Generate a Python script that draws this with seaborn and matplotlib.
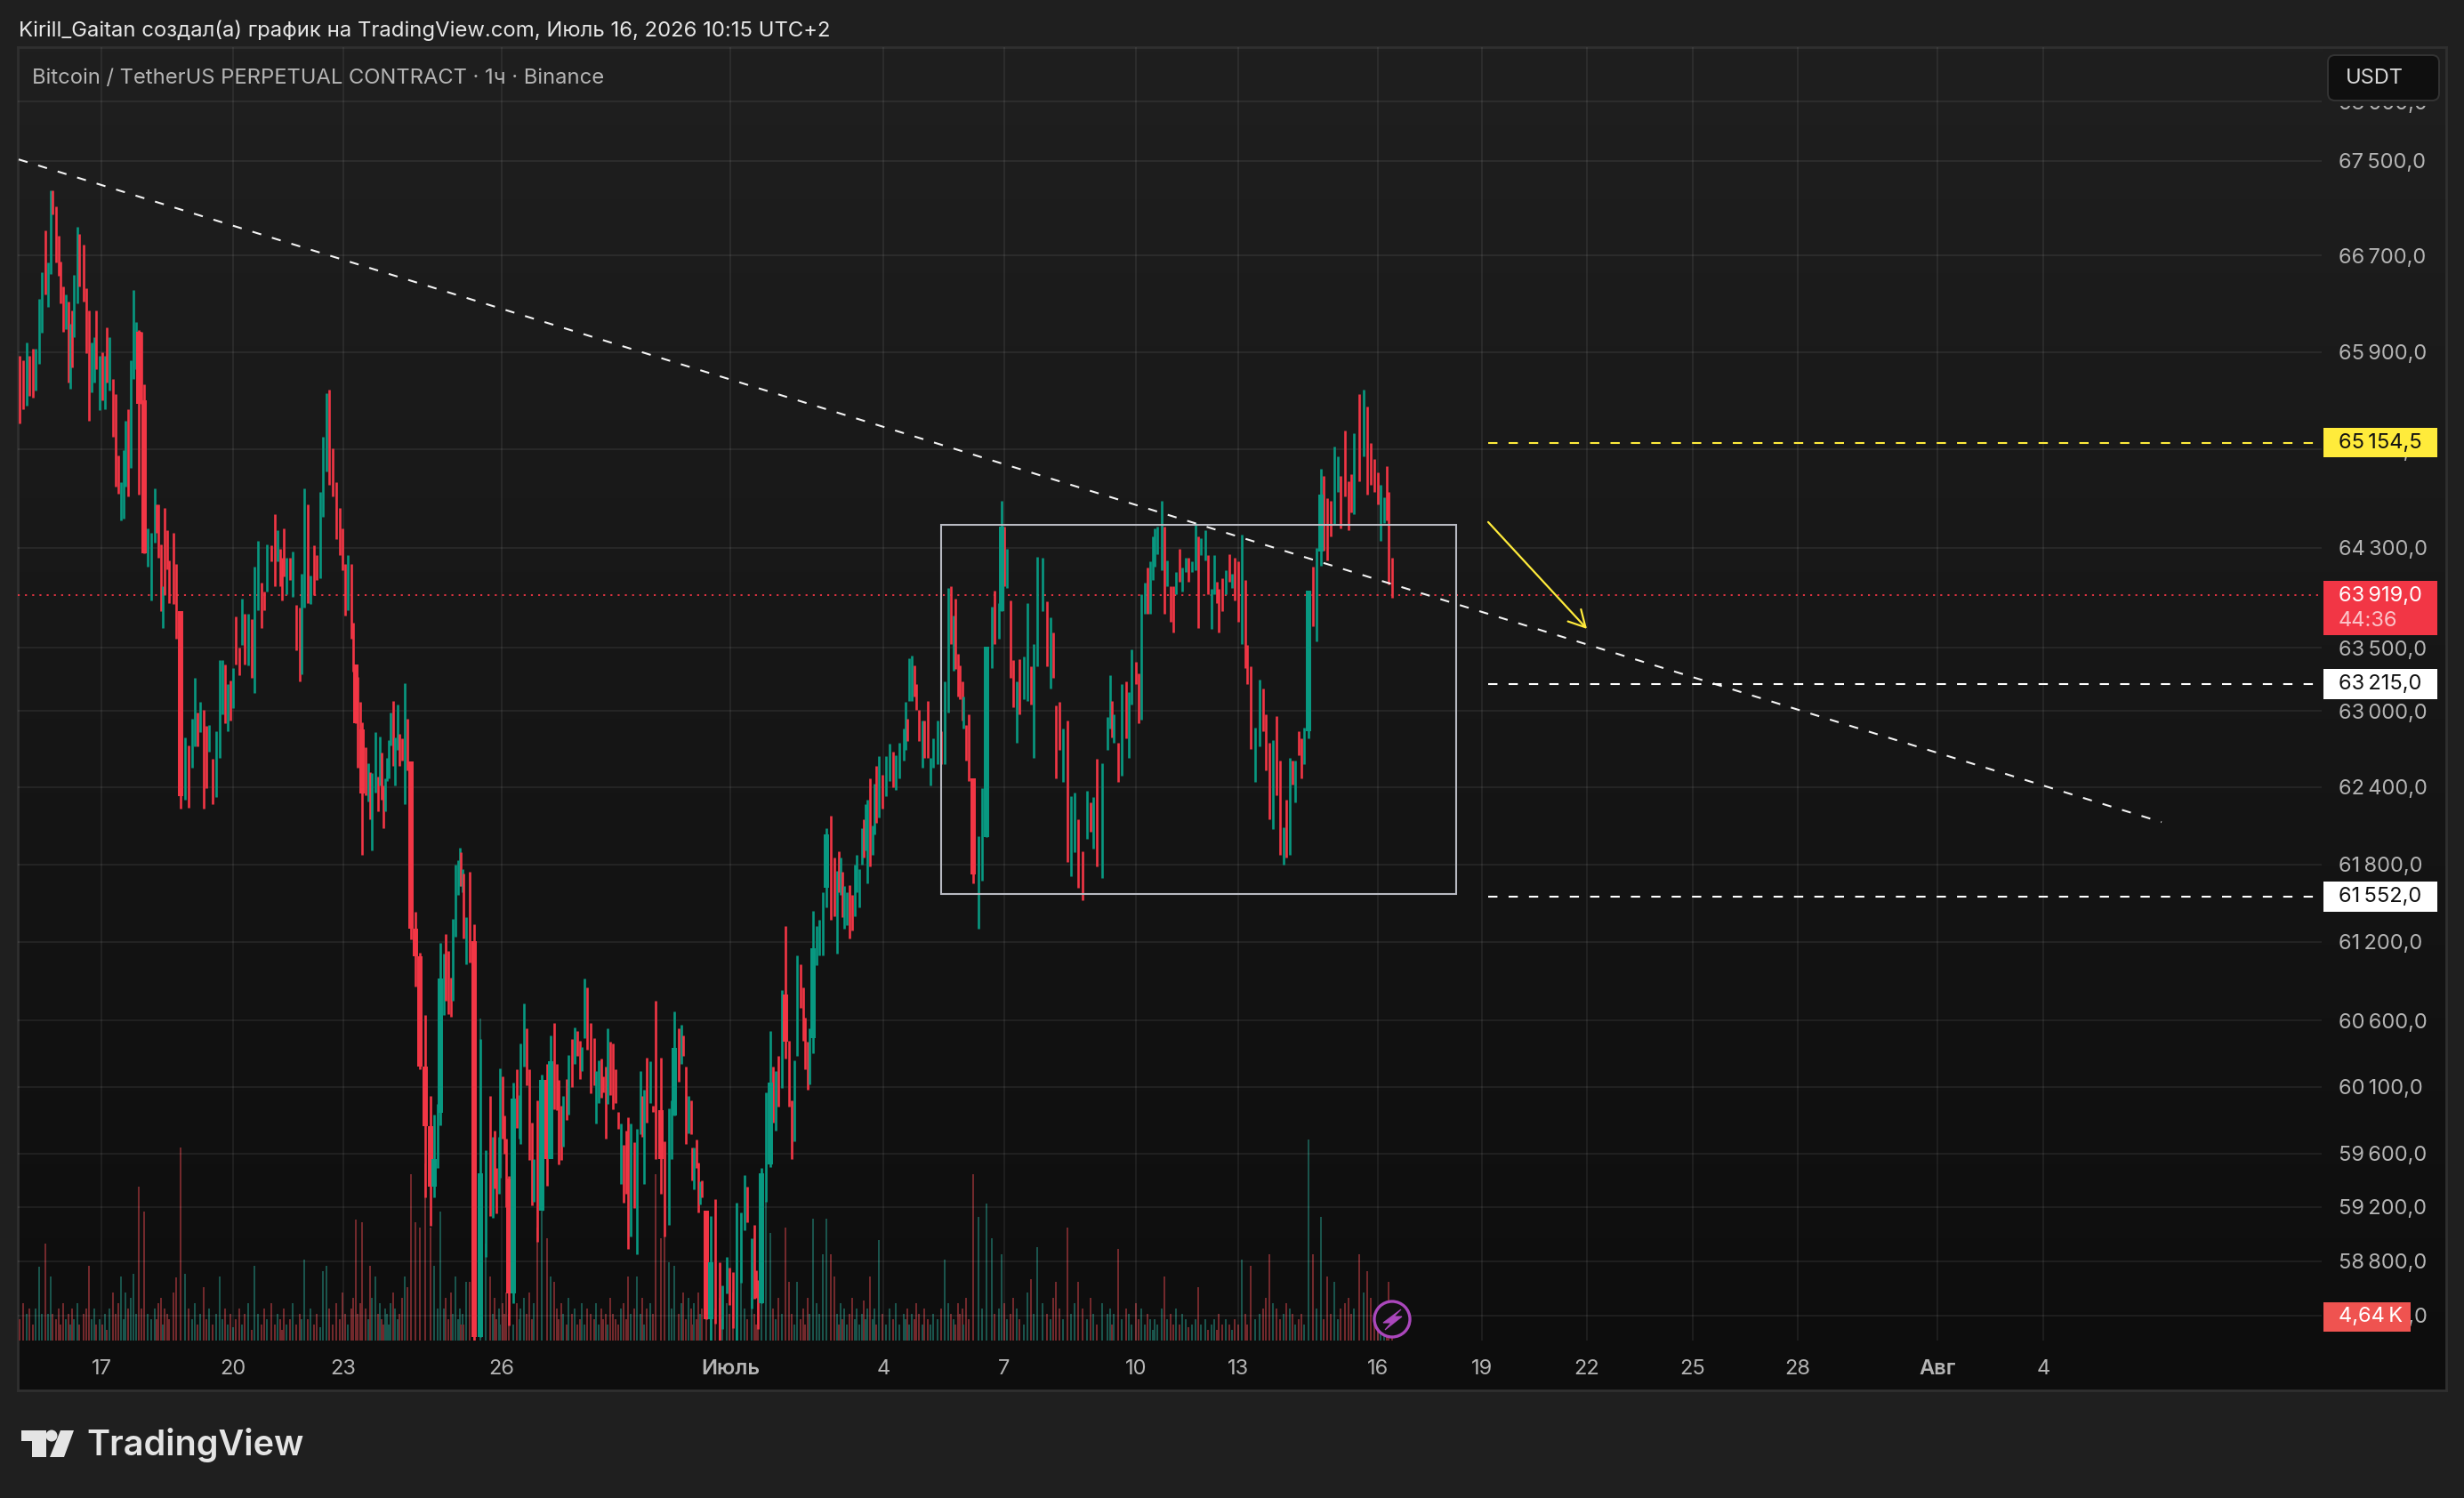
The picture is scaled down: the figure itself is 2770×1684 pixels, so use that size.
import numpy as np
import seaborn as sns
import matplotlib.pyplot as plt
from matplotlib.patches import Rectangle, FancyBboxPatch, Circle, Polygon
from matplotlib.ticker import NullLocator

# hours from the left edge of the chart, one entry per candle
bar_hour = [
    1,3,5,6.5,8.5,10,12,13.5,15.5,17,18.5,19.5,21.5,23,24,25.5,27,28.5,29.5,30.5,
    31.5,33.5,34.5,37,38.5,40,41.5,43,44,46,47.5,49,50,51.5,53.5,55,56.5,58,59.5,60.5,
    62,63.5,65,66.5,68,69.5,71,73,75,77,78,79,80.5,81.5,82.5,84,85,87.5,89,91.5,
    94,96,98,99.5,101,102.5,104.5,106,107.5,109.5,111.5,113.5,115,116.5,118,119.5,121,122.5,124.5,126,
    127.5,129.5,131.5,133,135,137,138.5,140,142.5,144.5,146,147.5,148.5,149.5,151,153,154.5,156.5,158.5,159.5,
    161,163,164.5,166.5,168,170,171.5,173.5,175,177,179,181,182.5,184,185.5,187.5,188.5,190,191,192.5,
    193.5,195.5,197,198,199,201,202.5,203.5,204.5,205.5,206.5,207.5,208.5,209.5,211,212,213.5,214.5,216,217.5,
    219,221,223.5,226,229,232,234,236,237.5,239.5,240.5,242,243.5,244.5,246,247.5,248.5,249,250,250.5,
    252,254,256.5,260,263,265.5,267,268,269,270.5,271,272.5,273.5,274.5,276,278.5,280.5,282,282.5,284.5,
    286,287.5,289,290,292,294.5,297.5,299.5,301.5,303,304,305.5,306.5,308.5,309.5,311.5,313,314.5,316,317,
    318.5,320,322,324,325,326.5,328,329,330.5,331.5,333,334.5,336,337.5,339,340.5,342,343,344.5,346.5,
    348,350,351,352,353.5,355.5,357,358.5,361.5,363.5,366,367.5,369,371.5,373,374,375.5,377,378.5,379,
    380,381.5,382.5,383.5,384.5,387,389.5,392,394.5,396,398.5,400,402,404,406.5,408.5,410,412.5,414,415,
    416,418,420.5,423,424.5,426,427.5,429.5,431.5,433.5,435,436.5,438,440,441.5,442.5,444,445,447,449,
    450.5,452.5,454.5,457,459,460.5,461.5,462.5,463.5,464.5,466,467.5,469,470.5,471.5,473,474.5,475.5,476.5,477.5,
    479,480.5,481.5,482.5,484,486,488,490,492,493.5,495.5,498,499,500,501,502.5,504,505,506.5,508.5,
    509.5,511.5,513,514.5,517,519,521,523,524.5,526,527,528.5,529.5,531,531.5,533,534.5,537,540,542,
    544.5,547.5,549,551.5,553,554.5,556,558,559.5,561.5,563,565.5,567.5,569.5,571,573,576,578.5,580.5,582,
    583.5,585.5,587.5,590,592,594,596,598.5,601,603,604.5,606.5,609.5,612.5,614,615,616,618.5,620.5,623,
    624.5,626,628.5,630,631.5,633.5,635,636.5,638,639,640.5,643,644.5,646,648,649.5,651,653,654.5,656.5,
    658,660,662,663.5,665,667.5,669,671,672.5,674,675,677,679,681,682.5,684,686,688,690,691,
    693,695.5,698,700,701.5,703.5,705.5,707.5,709.5,711.5,713,715,716.5,718,720,721.5,723,725.5,728,730,
    732.5,734,736,738,740,742,743.5,746,748,749.5,751,754,756.5,758.5,760.5,762.5,764.5,766,768,769.5,
    770.5,772.5,
]
bar_high = [
    65870,65830,65980,65870,65930,65930,66340,66560,66910,66640,67250,67250,67110,66870,66650,66440,66380,66320,66130,66240,
    66540,66940,66880,66790,66430,66240,65980,66020,66240,65870,65900,65870,66100,66020,65680,65550,65050,64830,65090,65330,
    65430,65830,66410,66150,66080,66070,65630,64460,64420,64780,64650,64650,64330,63990,64620,64440,64200,64420,64170,63790,
    62790,62730,62940,63260,62990,63070,63010,62880,62890,62620,62840,63400,63400,63370,63210,63240,63340,63750,63500,63890,
    63770,63770,63730,64150,64360,64020,63950,64330,64320,64570,64440,64290,64220,64460,64220,64220,64270,63840,63820,64090,
    64780,64650,64080,64320,64240,64750,65200,65560,65590,65110,64830,64620,64460,64170,64240,64170,63700,63370,63270,63070,
    62910,62710,62590,62520,62510,62830,62480,62800,62670,62410,62470,62630,62770,62990,63080,62790,63050,62820,62780,63220,
    62940,62600,61430,61120,60640,60030,59890,59970,61190,61110,61260,61130,60930,61380,61800,61830,61930,61890,61760,61730,
    61390,61740,61340,60460,59620,60030,59720,59770,59490,59720,60240,60180,59880,59710,59430,60130,60230,60040,60430,60730,
    60540,60230,59830,59560,60000,60190,60270,60490,60580,60270,60150,59960,60030,60160,60340,60460,60550,60520,60450,60400,
    60920,60850,60580,60470,60220,60300,60310,60180,60250,60540,60440,60430,60230,59910,59820,59660,59770,59870,59820,59680,
    59780,60220,60030,60080,60320,60290,59960,60750,60320,59690,59940,60000,60670,60540,60570,60490,60250,60030,60000,59640,
    59640,59700,59530,59390,59400,59170,59130,59260,58790,58620,58830,58750,58720,59230,59160,59440,59350,58970,59070,58730,
    58660,59490,60060,60520,60250,60220,60330,60830,61320,60450,60000,60300,61100,61030,60850,60620,60440,60540,61440,61320,
    61370,61580,62080,62180,61850,61750,61900,61850,61740,61630,61580,61640,61560,61800,61870,61760,62080,62150,62270,62300,
    62470,62100,62430,62570,62640,62500,62640,62740,62680,62650,62750,62860,63070,62940,63420,63440,63360,63210,63010,62920,
    62920,63080,62630,62780,62920,62840,63230,63980,63990,63760,63890,63450,63360,63230,63110,62890,62970,62470,62020,62390,
    63510,63830,63960,63860,64680,64470,64290,63880,63400,63230,63410,63430,63860,63350,63530,64230,64220,63870,63740,63620,
    63040,63070,62860,62920,62330,62360,62150,61900,62370,62280,62320,62620,62590,62950,63280,63080,62970,62750,63210,63230,
    63150,63490,63390,63300,63930,64020,64140,64190,64390,64460,64470,64680,64470,64200,63990,63990,64110,64290,64140,64220,
    64220,64190,64500,64390,64380,64440,64240,63970,64240,64030,63970,64060,64120,64250,64090,64220,64190,64410,64040,63520,
    63350,62870,63250,63180,62970,62750,62770,62960,62610,62090,62300,62630,62610,62610,62840,62780,62870,63960,64150,64300,
    64940,64880,64700,64680,65120,65040,64880,65250,64840,64900,65230,65550,65590,65450,65150,65020,64910,64810,64710,64960,
    64750,64220,
]
bar_low = [
    65310,65430,65460,65540,65520,65580,65800,66060,66380,66270,66550,67050,66640,66530,66300,66070,66090,65650,65600,65770,
    66020,66300,66440,66320,65890,65330,65570,65650,65760,65420,65500,65430,65650,65580,65200,64800,64740,64520,64540,64800,
    64720,64950,65680,65760,64730,65470,64260,64150,63880,64340,64420,64220,63790,63660,63920,64130,63860,63850,63570,62230,
    62300,62240,62550,62720,62720,62830,62230,62390,62680,62270,62320,62630,62970,62900,62840,62920,63020,63370,63280,63520,
    63370,63360,63260,63140,63800,63660,63800,63950,64190,63990,64190,63990,63880,64070,63930,64040,63910,63480,63230,63290,
    63820,63860,63850,63920,64040,64060,64550,64920,64810,64720,64370,64240,64120,63760,63800,63570,63310,62900,62550,62830,
    61870,62340,62290,62150,61910,62360,62210,62410,62300,62080,62210,62450,62470,62730,62570,62410,62690,62570,62610,62270,
    62530,61220,60860,60230,59270,59060,59270,59490,59810,60640,60750,60650,60630,60750,61240,61560,61630,61630,61580,61230,
    61030,61040,58220,58240,58830,59130,59120,59340,59150,59300,59420,59710,59600,59200,58330,58490,59790,59710,59670,60250,
    60110,59550,59210,59240,58940,59170,59360,59570,59930,59920,59520,59550,59650,59850,59890,60100,60270,60330,60160,60220,
    60470,60380,60050,60110,59820,59980,60020,60060,59710,59970,60040,59930,59980,59780,59370,59230,59300,58890,58980,59190,
    58850,59740,59720,59370,59830,59980,59910,59560,59300,58980,59070,59560,59880,60140,60270,60330,59670,59750,59740,59400,
    59330,59490,59160,59220,59270,58370,58220,58340,58220,58300,58560,58480,58310,58220,58640,59030,59090,58450,58520,58530,
    58300,58490,59240,59500,59830,59770,59950,60090,60310,59950,59560,59690,60330,60700,60450,60230,60080,60120,60350,61020,
    61100,61100,61470,61370,61400,61110,61580,61560,61390,61300,61330,61230,61290,61400,61580,61470,61800,61850,61910,61650,
    61780,61870,62030,62120,62160,62230,62330,62450,62400,62380,62470,62610,62690,62760,63080,63080,63110,63010,62760,62550,
    62630,62630,62410,62550,62580,62580,62580,62990,63530,63320,63330,63110,63090,62920,62860,62610,62450,61650,61300,61670,
    62010,63340,63530,63570,63790,63990,63980,63260,63030,62750,62970,63090,63080,63050,62630,63350,63790,63350,63180,63260,
    62470,62690,62440,61820,61710,61890,61620,61520,62000,62050,61920,61780,61690,62690,62860,62790,62750,62440,62490,62780,
    62630,63050,63210,62900,62930,63770,63770,63770,64040,64150,64250,64120,63770,63990,63710,63620,63930,64030,63950,64110,
    64030,64110,64120,63660,64240,64200,63930,63650,63930,63860,63620,63790,63930,64030,63980,63880,63710,63530,63340,63210,
    62700,62440,62720,62840,62530,62150,62070,62340,61870,61800,61850,61870,62420,62280,62650,62470,62580,62780,63670,63550,
    64160,64280,64200,64390,64490,64750,64460,64720,64440,64590,64570,64840,65040,64730,64810,64750,64650,64360,64500,64520,
    64010,63900,
]
bar_side = "".join([
    "rrgrrgggrggrrrrrgrgr", "ggrrrrggrgrgrgrrrggg", "rgggrrrgggrrrgrrrrrr", "grggrgrrgrgggrgrgrrg",
    "rgrggrrgrrgrrrgrgrrg", "grgrrgggrrrrrrgrrrrr", "rrgrggrgrrggggrggrrg", "rrrrrrggggrrrggggrgr",
    "grrggrgrrggrrrrgrggg", "rrrgrgrgrrrrgrgrgrrg", "grrrggrrrgrrrrgrrrgr", "ggrgrgrrrrgggrgrrgrr",
    "grrgrrgrrggrrgggrgrr", "rgggrgrgrrrggrrrrggg", "gggrrgrgrggrrggggrgg", "rggrgrggrggggrggrrrg",
    "rrgggrggrgrrrrgrrrgg", "ggrggrgrrgrggrgggrgr", "rrgrggrrgrgrgggrgrgr", "ggrrggrgggggrgrrgrgg",
    "rggrggrggrrrgrgrrgrr", "rggrrrgrrgrgrgrrggrg", "grrrggrrrrgrgrrrrggr", "rr",
])
# volume of each candle, thousands
bar_volume = [
    4,7,5,6,3,6,13.7,5,18,5,12,5,4,6,3,7,4,5,3,6,
    4,7,3,5,6,14,4,6,3,4,3,5,2,6,9,5,7,12,4,9,
    6,8,12.5,5,28.7,6,24,5,4,6,4,7,8,3,6,5,4,9,11.8,36,
    12.4,6,4,7,3,5,10,4,6,3,5,12,4,6,3,5,2.5,4,6,3,
    5,7,2,14,5,3,6,4,7,3,5,4,2,6,3,4,7,3,5,4,
    15,4,6,3,5,2.5,13,14,6,3,7,4,9,5,3,6,8,22.5,5,7,
    22,6,4,14,8,12,5,7,4,3,6,5,3,7,9,6,4,5,8,12,
    10,31,22,21,33,21,14,6,24,6,8,4,9,5,12,4,6,3,5,3,
    11,11,35,60,18,12,5,8,4,6,3,7,5,9,5,3,7,4,6,8,
    5,9,4,7,21,24,19,12,11,6,4,7,5,3,8,5,6,3,4,7,
    3,6,5,4,7,3,6,4,5,3,8,5,4,3,6,7,4,12,5,6,
    12,5,8,3,6,7,5,31,19,19.5,14.5,6,14,5,7,9,4,8,6,3,
    7,4,9,5,6,9,12,6,8,4,7,5,9,25.5,23.7,6,4,8,5,3,
    7,9,26,20,6,4,8,5,21,11,5,3,11,4,6,3,8,5,22.7,7,
    5,16,22.7,16,12,5,3,7,4,6,3,5,8,4,6,3,5,7.5,4,6,
    12,4,6,3,18.7,5,3,6,4,7,3,5,4,6,3,5,4,7,5,3,
    6,4,3,5,4,6,15,7,5,4,3,7,5,6,3,8,4,31,23,6,
    25.5,19,5,6,16,7,4,5,8,6,4,3,9,11.5,5,17.4,7,5,4,8,
    11,6,4,21,5,7,11,6,4,8,5,3,7,5,6,3,5,17,4,6,
    5,3,7,4,6,3,5,4,2,4,3,6,12,4,5,3,6,3,5,4,
    2.5,3,4,10,3,4,2,3,4,2,5,3,4,3,2,4,3,15,5,3,
    14,4,5,6,8,16,7,6,4,5,7,6,5,3,4,5,3,37.5,16,6,
    23,4,12,5,11,4,6,7,8,5,6,16,9,13,8,5,4,3,2.5,2,
    11,4.64,
]

# candles with a clearly visible wide body
body_hour = [68,71,91.5,190,193.5,221,223.5,226,229,232,234,237.5,256.5,260,276,278.5,294.5,297.5,299.5,
             361.5,369,387,389.5,418,423,431.5,447,454.5,537,544.5,553,725.5,732.5]
body_open = [66070,65500,63790,63370,62850,62600,61300,61090,60250,59800,59350,59900,61210,58240,59410,58560,59170,60150,59560,
             59920,59880,59170,58370,58490,59520,60800,60470,61620,62470,62010,63790,62840,64270]
body_close = [65470,64260,62330,62900,62350,61300,61090,60250,59800,59350,59560,60920,58240,59450,58560,60010,60150,59560,60290,
              59560,60390,58370,58790,59450,60130,60440,61150,62030,61720,63510,64470,63960,64730]

# price axis
price_ticks = [68000,67500,66700,65900,65100,64300,63500,63000,62400,61800,61200,60600,60100,59600,59200,58800,58400]
# time axis, non uniform in the picture
time_hours = [47,121,183,272,400.5,486.5,554.5,628.5,686,764.5,823,882,941.5,1000.5,1079,1138.5]
time_labels = ["17","20","23","26","Июль","4","7","10","13","16","19","22","25","28","Авг","4"]
time_bold = ["Июль","Авг"]

# drawings
trend_hour = [0.5, 1205]
trend_price = [67510, 62127]
box_hour = [519, 808.5]
box_price = [61571, 64490]
arrow_hour = [826.5, 882]
arrow_price = [64509, 63651]
level_hour = [826.5, 1295]
level_yellow = 65154.5
level_white = [63215, 61552]
last_price = 63919

W, H = 2770, 1684
RED = "#f23645"
GREEN = "#089981"
VOL_RED = "#72292c"
VOL_GREEN = "#1a544c"
TICK = "#b4b4b4"


def rect(l, t, r, b):
    return [l / W, 1 - b / H, (r - l) / W, (b - t) / H]


def price_label(p):
    s = f"{p:,.1f}".replace(",", "\u2009").replace(".", ",")
    return s


sns.set_theme(style="dark", rc={"figure.facecolor": "#1f1f1f", "axes.facecolor": "none"})
plt.rcParams["font.family"] = ["Inter", "DejaVu Sans"]

fig = plt.figure(figsize=(W / 100, H / 100), dpi=100)

# panel with its soft vertical gradient
bg = fig.add_axes(rect(20, 53, 2750, 1563), zorder=0)
bg.imshow(np.linspace(0, 1, 256).reshape(-1, 1), cmap=plt.cm.colors.LinearSegmentedColormap.from_list(
    "panel", ["#1f1f1f", "#0d0d0d"]), aspect="auto")
bg.set_xticks([])
bg.set_yticks([])
for s in bg.spines.values():
    s.set_color("#2f2f2f")
    s.set_linewidth(2)

ax = fig.add_axes(rect(20, 53, 2610, 1507), zorder=2)
vol = ax.twinx()
vol.set_zorder(1)
ax.set_zorder(2)
ax.patch.set_visible(False)
vol.patch.set_visible(False)

# volume sits at the bottom of the same pane
vol_colors = [VOL_GREEN if s == "g" else VOL_RED for s in bar_side]
vol.bar(bar_hour, bar_volume, width=1.05, color=vol_colors, linewidth=0)
vol.set_ylim(0, 240.9)
vol.set_axis_off()

bar_colors = [GREEN if s == "g" else RED for s in bar_side]
ax.vlines(bar_hour, bar_low, bar_high, colors=bar_colors, linewidth=1.9, zorder=3)
body_colors = [GREEN if c > o else RED for o, c in zip(body_open, body_close)]
ax.vlines(body_hour, np.minimum(body_open, body_close), np.maximum(body_open, body_close),
          colors=body_colors, linewidth=4.3, zorder=3)

ax.set_yscale("log")
ax.set_xlim(0, 1295)
ax.set_ylim(58217, 68467)
ax.set_yticks(price_ticks)
ax.set_yticklabels([price_label(p) for p in price_ticks], va="center_baseline")
ax.yaxis.set_minor_locator(NullLocator())
ax.yaxis.tick_right()
ax.set_xticks(time_hours)
ax.set_xticklabels(time_labels)
for lab in ax.get_xticklabels():
    if lab.get_text() in time_bold:
        lab.set_fontweight("semibold")
ax.tick_params(axis="y", length=0, pad=13.5, labelsize=17, labelcolor=TICK)
ax.tick_params(axis="x", length=0, pad=15, labelsize=17, labelcolor=TICK)
ax.grid(True, axis="both", color="white", alpha=0.065, linewidth=1.5, zorder=0)
ax.set_axisbelow(True)
for s in ax.spines.values():
    s.set_visible(False)

# trend line and levels
sns.lineplot(x=trend_hour, y=trend_price, ax=ax, color="#f4f4f4", linewidth=1.5,
             linestyle=(0, (5, 6)), legend=False, zorder=5)
sns.lineplot(x=level_hour, y=[level_yellow, level_yellow], ax=ax, color="#ffeb3b", linewidth=1.5,
             linestyle=(0, (5, 6)), legend=False, zorder=5)
for lv in level_white:
    sns.lineplot(x=level_hour, y=[lv, lv], ax=ax, color="#ffffff", linewidth=1.5,
                 linestyle=(0, (5, 6)), legend=False, zorder=5)
ax.axhline(last_price, color=RED, linewidth=1.3, linestyle=(0, (1.2, 3.3)), zorder=2)
ax.add_patch(Rectangle((box_hour[0], box_price[0]), box_hour[1] - box_hour[0], box_price[1] - box_price[0],
                       fill=False, edgecolor="#b8bac2", linewidth=1.5, zorder=4))
ax.annotate("", xy=(arrow_hour[1], arrow_price[1]), xytext=(arrow_hour[0], arrow_price[0]),
            arrowprops=dict(arrowstyle="->,head_length=1.1,head_width=0.6", color="#ffeb3b", lw=1.6,
                            shrinkA=0, shrinkB=0), zorder=5)
ax.set_xlim(0, 1295)
ax.set_ylim(58217, 68467)
ax.set_xlabel("")
ax.set_ylabel("")

# chrome on top: header, price tags, logo, button
ui = fig.add_axes([0, 0, 1, 1], zorder=5)
ui.set_xlim(0, W)
ui.set_ylim(H, 0)
ui.axis("off")

ui.text(21, 34, "Kirill_Gaitan создал(а) график на TradingView.com, Июль 16, 2026 10:15 UTC+2",
        color="#e6e6e6", fontsize=17.2, va="center")
ui.text(36, 88, "Bitcoin / TetherUS PERPETUAL CONTRACT · 1ч · Binance", color="#b4b4b4", fontsize=17.1, va="center")

# the price scale is masked under the currency button
ui.add_patch(Rectangle((2612, 55), 136, 64, facecolor="#1e1e1e", edgecolor="none"))
ui.add_patch(FancyBboxPatch((2617, 62), 125, 51, boxstyle="round,pad=0,rounding_size=8",
                            facecolor="#0f0f0f", edgecolor="#333333", linewidth=1.4, mutation_aspect=1))
ui.text(2637, 88, "USDT", color="#d8d8d8", fontsize=17, va="center")

tags = [
    (481, 514, "#ffeb3b", "#111111", price_label(level_yellow), 2740),
    (752, 786, "#ffffff", "#111111", price_label(level_white[0]), 2740),
    (991, 1025, "#ffffff", "#111111", price_label(level_white[1]), 2740),
    (1464, 1497, "#ef5350", "#ffffff", "4,64\u2009K", 2710),
]
for top, bottom, fc, tc, txt, right in tags:
    ui.add_patch(Rectangle((2612, top), right - 2612, bottom - top, facecolor=fc, edgecolor="none"))
    ui.text(2629, (top + bottom) / 2, txt, color=tc, fontsize=17, va="center")
ui.add_patch(Rectangle((2612, 653), 128, 61, facecolor=RED, edgecolor="none"))
ui.text(2629, 670, price_label(last_price), color="#ffffff", fontsize=17, va="center")
ui.text(2629, 698, "44:36", color="#fbc4c9", fontsize=17, va="center")

# bolt badge
ui.add_patch(Circle((1565, 1483), 20, facecolor="#111111", edgecolor="#ab47bc", linewidth=2.4))
ui.add_patch(Polygon([(1575, 1472), (1555, 1487), (1564, 1487), (1557, 1495), (1576, 1480), (1567, 1480)],
                     closed=True, facecolor="#ab47bc", edgecolor="#ab47bc", linewidth=0.8))

# logo
ui.add_patch(Polygon([(24, 1608), (52, 1608), (52, 1638), (36, 1638), (36, 1620), (24, 1620)],
                     closed=True, facecolor="#e4e4e4", edgecolor="none"))
ui.add_patch(Circle((58, 1614), 6.5, facecolor="#e4e4e4", edgecolor="none"))
ui.add_patch(Polygon([(68, 1608), (83, 1608), (72, 1638), (56, 1638)], closed=True,
                     facecolor="#e4e4e4", edgecolor="none"))
ui.text(97, 1624, "TradingView", color="#e4e4e4", fontsize=28.5, fontweight="semibold", va="center")

fig.savefig("out.png", dpi=100)
